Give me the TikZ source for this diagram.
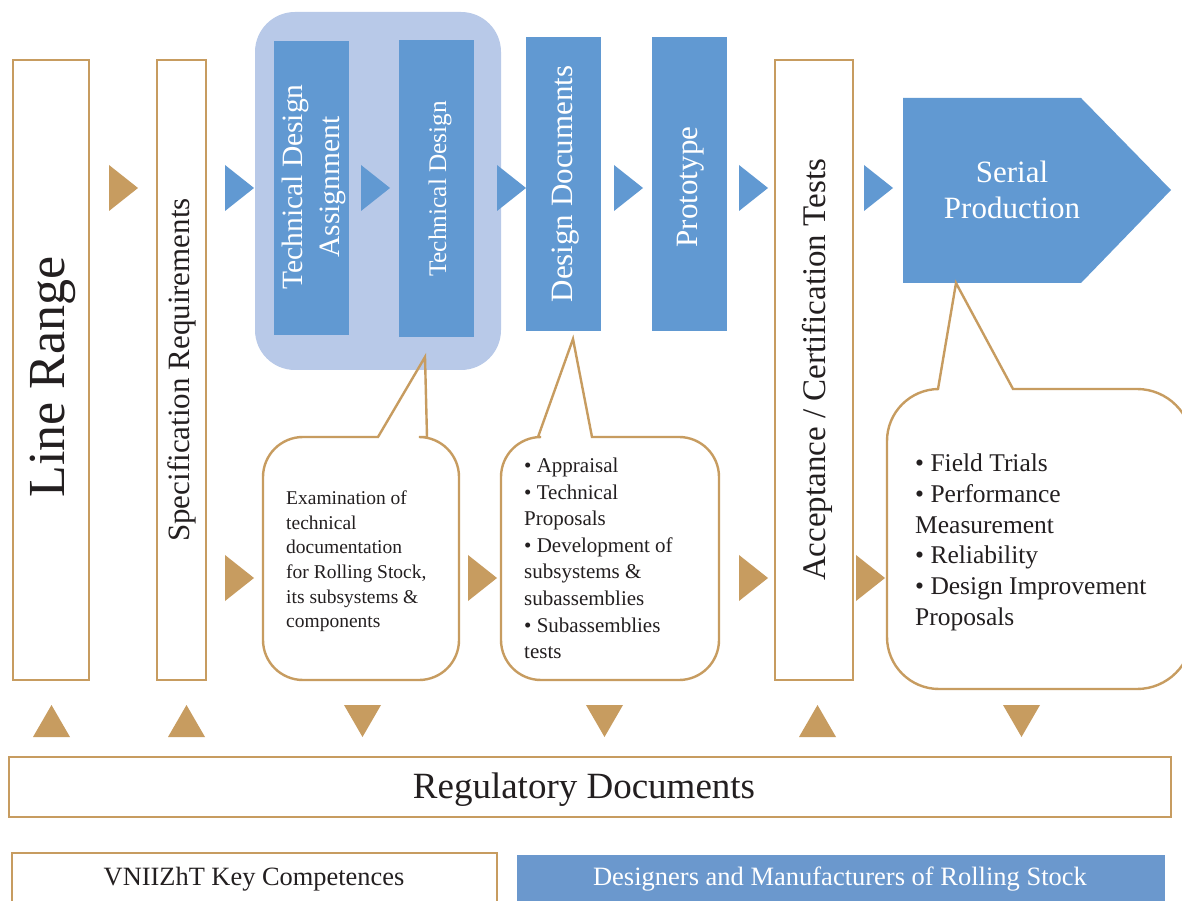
\documentclass[tikz,border=0pt]{standalone}
\usepackage{fontspec}
\setmainfont{Liberation Serif}
\definecolor{gold}{HTML}{C79C60}
\definecolor{mblue}{HTML}{6199D2}
\definecolor{lblue}{HTML}{B8C9E8}
\definecolor{dblue}{HTML}{6B98CD}
\definecolor{ink}{HTML}{231F20}
\newcommand\myfs[2]{\fontsize{#1}{#2}\selectfont}
\newcommand\rtri[3]{\fill[#1] (#2,#3+23) -- (#2+29,#3) -- (#2,#3-23) -- cycle;}
\newcommand\utri[1]{\fill[gold] (#1,163) -- (#1+37,163) -- (#1+18.5,195) -- cycle;}
\newcommand\dtri[1]{\fill[gold] (#1,195) -- (#1+37,195) -- (#1+18.5,163) -- cycle;}
\begin{document}
\begin{tikzpicture}[x=1pt,y=1pt,
  goldbox/.style={draw=gold, line width=2.2pt, fill=white, inner sep=0},
  bluebox/.style={fill=mblue, inner sep=0},
  callout/.style={draw=gold, line width=2.4pt, line join=miter},
  lbl/.style={text=ink, inner sep=0},
  wlbl/.style={text=white, inner sep=0},
  ctext/.style={text=ink, inner sep=0, anchor=north west, align=left}]
\clip (0,0) rectangle (1182,900);
\fill[white] (0,0) rectangle (1182,900);

% top row boxes
\node[goldbox, minimum width=76, minimum height=620] (lr) at (51,530) {};
\node[goldbox, minimum width=49, minimum height=620] (sr) at (181.5,530) {};
\node[fill=lblue, rounded corners=40, minimum width=246, minimum height=358, inner sep=0] (grp) at (378,709) {};
\node[bluebox, minimum width=75, minimum height=294] (tda) at (311.5,712) {};
\node[bluebox, minimum width=75, minimum height=297] (td) at (436.5,711.5) {};
\node[bluebox, minimum width=75, minimum height=294] (dd) at (563.5,716) {};
\node[bluebox, minimum width=75, minimum height=294] (pr) at (689.5,716) {};
\node[goldbox, minimum width=78, minimum height=620] (acc) at (814,530) {};
\fill[mblue] (903,802) coordinate (sp1) -- (1081,802) -- (1171,710) coordinate (sptip) -- (1081,617) -- (903,617) -- cycle;

% labels
\node[lbl, rotate=90, font=\myfs{52}{60}] at (53,523) {Line Range};
\node[lbl, rotate=90, font=\myfs{31}{36}] at (182,530) {Specification Requirements};
\node[wlbl, rotate=90, align=center, font=\myfs{29.5}{37}] at (314,713) {Technical Design\\Assignment};
\node[wlbl, rotate=90, font=\myfs{25.3}{30}] at (440,711) {Technical Design};
\node[wlbl, rotate=90, font=\myfs{31}{36}] at (566,716) {Design Documents};
\node[wlbl, rotate=90, font=\myfs{31}{36}] at (691,713) {Prototype};
\node[lbl, rotate=90, font=\myfs{33}{38}] at (817,530) {Acceptance / Certification Tests};
\node[wlbl, align=center, font=\myfs{31}{36}] (sp) at (1012,710) {Serial\\Production};

% top row triangles
\rtri{gold}{109}{712}
\rtri{mblue}{225}{712}
\rtri{mblue}{361}{712}
\rtri{mblue}{497}{712}
\rtri{mblue}{614}{712}
\rtri{mblue}{739}{712}
\rtri{mblue}{864}{712}

% lower row triangles
\rtri{gold}{225}{322}
\rtri{gold}{468}{322}
\rtri{gold}{739}{322}
\rtri{gold}{856}{322}

% callouts
\draw[callout] (378,463) -- (425,543) -- (427,463) -- (419,463)
  arc[start angle=90,end angle=0,radius=40] -- (459,260)
  arc[start angle=0,end angle=-90,radius=40] -- (303,220)
  arc[start angle=270,end angle=180,radius=40] -- (263,423)
  arc[start angle=180,end angle=90,radius=40] -- cycle;
\draw[callout] (538,463) -- (573,561) -- (592,463) -- (679,463)
  arc[start angle=90,end angle=0,radius=40] -- (719,260)
  arc[start angle=0,end angle=-90,radius=40] -- (541,220)
  arc[start angle=270,end angle=180,radius=40] -- (501,423)
  arc[start angle=180,end angle=90,radius=40] -- cycle;
\draw[callout] (938,511) -- (956,617) -- (1013,511) -- (1137,511)
  arc[start angle=90,end angle=0,radius=55] -- (1192,266)
  arc[start angle=0,end angle=-90,radius=55] -- (939,211)
  arc[start angle=270,end angle=180,radius=52] -- (887,459)
  arc[start angle=180,end angle=90,radius=52] -- cycle;

\node[ctext, font=\myfs{19.5}{24.7}] (c1) at (286,409.5) {Examination of\\technical\\documentation\\for Rolling Stock,\\its subsystems \&\\components};
\node[ctext, font=\myfs{21}{26.6}] (c2) at (524,442.3) {• Appraisal\\• Technical\\Proposals\\• Development of\\subsystems \&\\subassemblies\\• Subassemblies\\tests};
\node[ctext, font=\myfs{25.5}{30.8}] (c3) at (915,446.4) {• Field Trials\\• Performance\\Measurement\\• Reliability\\• Design Improvement\\Proposals};

% vertical triangles
\utri{33}
\utri{168}
\dtri{344}
\dtri{586}
\utri{799}
\dtri{1003}

% bottom boxes
\node[goldbox, minimum width=1162, minimum height=60] (rd) at (590,113) {};
\node[lbl, font=\myfs{37}{42}] at (584,110) {Regulatory Documents};
\node[goldbox, minimum width=485, minimum height=57] (vk) at (254.5,18.5) {};
\node[lbl, font=\myfs{26.4}{30}] at (254,21) {VNIIZhT Key Competences};
\node[fill=dblue, inner sep=0, minimum width=648, minimum height=55] (dm) at (841,17.5) {};
\node[wlbl, font=\myfs{26.5}{30}] at (840,21) {Designers and Manufacturers of Rolling Stock};
\end{tikzpicture}
\end{document}
